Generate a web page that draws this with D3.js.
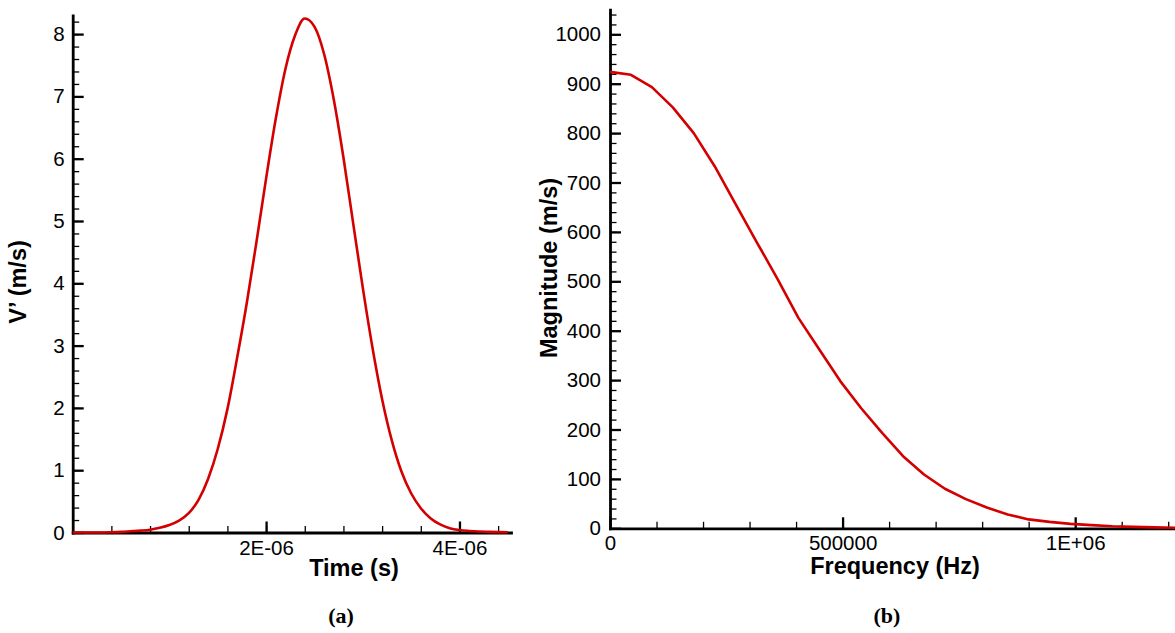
<!DOCTYPE html>
<html lang="en">
<head>
    <meta charset="UTF-8">
    <title>Pulse and spectrum</title>
    <script src="https://cdn.jsdelivr.net/npm/d3@7"></script>
    <style>
        body { margin: 0; background: #fff; }
        .axis path, .axis line { stroke: #000; }
        .axis path { stroke-width: 2.8px; stroke-linecap: square; }
        .axis .tick line { stroke-width: 2.3px; }
        .minor .tick line { stroke-width: 1.3px; }
        .axis text {
            font-family: "Liberation Sans", Arial, sans-serif;
            font-size: 20.5px;
            fill: #000;
        }
        .title {
            font-family: "Liberation Sans", Arial, sans-serif;
            font-weight: bold;
            font-size: 23.5px;
        }
        .caption {
            font-family: "Liberation Serif", "Times New Roman", serif;
            font-weight: bold;
            font-size: 22px;
        }
    </style>
</head>
<body>
<div id="svgcanvas"></div>
<script>

    /* global d3 */

    // (a) velocity pulse, time in microseconds
    var timeUs = [0.0, 0.1, 0.2, 0.3, 0.4, 0.5, 0.6, 0.7, 0.8, 0.9,
        1.0, 1.1, 1.2, 1.3, 1.4, 1.5, 1.6, 1.7, 1.8, 1.9,
        2.0, 2.1, 2.2, 2.3, 2.4, 2.5, 2.6, 2.7, 2.8, 2.9,
        3.0, 3.1, 3.2, 3.3, 3.4, 3.5, 3.6, 3.7, 3.8, 3.9,
        4.0, 4.1, 4.2, 4.3, 4.4, 4.5];
    var velocity = [0, 0, 0, 0, 0.004, 0.01, 0.02, 0.03, 0.045, 0.075,
        0.12, 0.19, 0.31, 0.52, 0.86, 1.34, 1.98, 2.80, 3.68, 4.66,
        5.68, 6.64, 7.44, 7.98, 8.25, 8.12, 7.68, 6.95, 6.02, 4.97,
        3.93, 2.97, 2.14, 1.48, 0.98, 0.63, 0.39, 0.23, 0.13, 0.07,
        0.04, 0.025, 0.015, 0.01, 0.006, 0.004];

    // (b) spectrum magnitude
    var frequency = [0, 45000, 90000, 135000, 180000, 225000, 270000, 315000,
        360000, 405000, 450000, 495000, 540000, 585000, 630000, 675000,
        720000, 765000, 810000, 855000, 900000, 945000, 990000, 1035000,
        1080000, 1125000, 1170000, 1215000];
    var magnitude = [924, 918, 893, 852, 800, 733, 656, 580,
        505, 426, 362, 298, 243, 193, 146, 109,
        80, 59, 42, 28, 18, 13, 9, 6.5,
        4, 2.8, 1.8, 1.1];

    var timeTicks = [2e-6, 4e-6];
    var velTicks = [0, 1, 2, 3, 4, 5, 6, 7, 8];
    var freqTicks = [0, 500000, 1000000];
    var magTicks = [0, 100, 200, 300, 400, 500, 600, 700, 800, 900, 1000];

    var width = 1175;
    var height = 633;
    var red = "#d40000";

    var svg = d3.select("#svgcanvas").append("svg")
        .attr("width", width)
        .attr("height", height);

    // ---------- chart (a) ----------
    var xa = d3.scaleLinear().domain([0, 4.533e-6]).range([72.7, 511]);
    var ya = d3.scaleLinear().domain([0, 8.3]).range([532.5, 15.4]);

    svg.append("g").attr("class", "axis minor")
        .attr("transform", "translate(0," + ya(0) + ")")
        .call(d3.axisBottom(xa).tickValues(d3.range(1, 12).map(function (i) { return i * 0.4e-6; }))
            .tickSize(-6.5).tickFormat(""))
        .select(".domain").remove();
    svg.append("g").attr("class", "axis minor")
        .attr("transform", "translate(" + xa(0) + ",0)")
        .call(d3.axisLeft(ya).tickValues(d3.range(1, 42).map(function (i) { return i * 0.2; }))
            .tickSize(-6.5).tickFormat(""))
        .select(".domain").remove();

    svg.append("g").attr("class", "axis")
        .attr("transform", "translate(0," + ya(0) + ")")
        .call(d3.axisBottom(xa).tickValues(timeTicks).tickSize(-11).tickSizeOuter(0)
            .tickPadding(8).tickFormat(function (d) { return (d * 1e6) + "E-06"; }));
    svg.append("g").attr("class", "axis")
        .attr("transform", "translate(" + xa(0) + ",0)")
        .call(d3.axisLeft(ya).tickValues(velTicks).tickSize(-11).tickSizeOuter(0)
            .tickPadding(8).tickFormat(d3.format("d")));

    var lineA = d3.line()
        .x(function (d, i) { return xa(timeUs[i] * 1e-6); })
        .y(function (d) { return ya(d); })
        .curve(d3.curveMonotoneX);

    svg.append("path")
        .datum(velocity)
        .attr("fill", "none")
        .attr("stroke", red)
        .attr("stroke-width", 2.6)
        .attr("d", lineA);

    svg.append("text").attr("class", "title")
        .attr("x", 354).attr("y", 576)
        .attr("text-anchor", "middle")
        .text("Time (s)");
    svg.append("text").attr("class", "title")
        .attr("transform", "translate(18,282) rotate(-90)")
        .attr("dy", "0.35em")
        .attr("text-anchor", "middle")
        .text("V\u2019 (m/s)");
    svg.append("text").attr("class", "caption")
        .attr("x", 341).attr("y", 623)
        .attr("text-anchor", "middle")
        .text("(a)");

    // ---------- chart (b) ----------
    var xb = d3.scaleLinear().domain([0, 1.2146e6]).range([610, 1175]);
    var yb = d3.scaleLinear().domain([0, 1050]).range([528.3, 9.6]);

    svg.append("g").attr("class", "axis minor")
        .attr("transform", "translate(0," + yb(0) + ")")
        .call(d3.axisBottom(xb).tickValues(d3.range(1, 13).map(function (i) { return i * 100000; }))
            .tickSize(-6.5).tickFormat(""))
        .select(".domain").remove();
    svg.append("g").attr("class", "axis minor")
        .attr("transform", "translate(" + xb(0) + ",0)")
        .call(d3.axisLeft(yb).tickValues(d3.range(1, 53).map(function (i) { return i * 20; }))
            .tickSize(-6.5).tickFormat(""))
        .select(".domain").remove();

    svg.append("g").attr("class", "axis")
        .attr("transform", "translate(0," + yb(0) + ")")
        .call(d3.axisBottom(xb).tickValues(freqTicks).tickSize(-11).tickSizeOuter(0)
            .tickPadding(7).tickFormat(function (d) { return d === 1000000 ? "1E+06" : String(d); }));
    svg.append("g").attr("class", "axis")
        .attr("transform", "translate(" + xb(0) + ",0)")
        .call(d3.axisLeft(yb).tickValues(magTicks).tickSize(-11).tickSizeOuter(0)
            .tickPadding(9).tickFormat(d3.format("d")));

    var lineB = d3.line()
        .x(function (d, i) { return xb(frequency[i]); })
        .y(function (d) { return yb(d); });

    svg.append("path")
        .datum(magnitude)
        .attr("fill", "none")
        .attr("stroke", red)
        .attr("stroke-width", 2.6)
        .attr("stroke-linejoin", "round")
        .attr("d", lineB);

    svg.append("text").attr("class", "title")
        .attr("x", 895).attr("y", 574)
        .attr("text-anchor", "middle")
        .text("Frequency (Hz)");
    svg.append("text").attr("class", "title")
        .attr("transform", "translate(549,268) rotate(-90)")
        .attr("dy", "0.35em")
        .attr("text-anchor", "middle")
        .text("Magnitude (m/s)");
    svg.append("text").attr("class", "caption")
        .attr("x", 887).attr("y", 623)
        .attr("text-anchor", "middle")
        .text("(b)");

</script>
</body>
</html>
